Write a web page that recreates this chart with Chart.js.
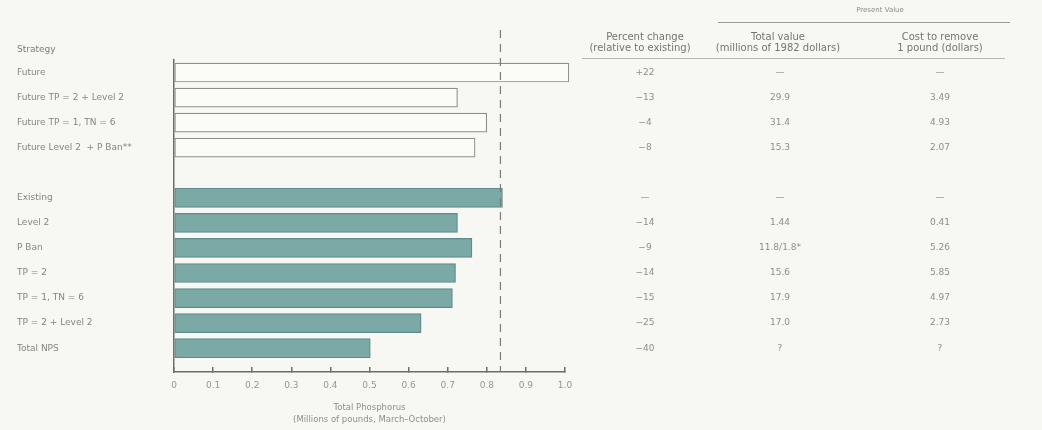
<!DOCTYPE html>
<html>
<head>
<meta charset="utf-8">
<title>Total Phosphorus by Strategy</title>
<script src="https://cdn.jsdelivr.net/npm/chart.js@4.4.1/dist/chart.umd.min.js"></script>
<style>
  html, body { margin: 0; padding: 0; background: #f7f7f3; }
  #wrap { width: 1042px; height: 430px; position: relative; }
  canvas { display: block; }
</style>
</head>
<body>
<div id="wrap"><canvas id="chart" width="1042" height="430"></canvas></div>
<script>
// Strategy names, top to bottom; slot 4 is the gap between the two groups
const strategies = [
  'Future',
  'Future TP = 2 + Level 2',
  'Future TP = 1, TN = 6',
  'Future Level 2  + P Ban**',
  'Existing',
  'Level 2',
  'P Ban',
  'TP = 2',
  'TP = 1, TN = 6',
  'TP = 2 + Level 2',
  'Total NPS'
];
const rowSlots = [0, 1, 2, 3, 5, 6, 7, 8, 9, 10, 11];

// Total phosphorus load, millions of pounds (March–October)
const futureValues = [1.01, 0.725, 0.80, 0.77];
const currentValues = [0.84, 0.725, 0.762, 0.72, 0.712, 0.632, 0.502];

// Table columns
const percentChange = ['+22', '−13', '−4', '−8', '—', '−14', '−9', '−14', '−15', '−25', '−40'];
const totalValue = ['—', '29.9', '31.4', '15.3', '—', '1.44', '11.8/1.8*', '15.6', '17.9', '17.0', '?'];
const costPerPound = ['—', '3.49', '4.93', '2.07', '—', '0.41', '5.26', '5.85', '4.97', '2.73', '?'];

const xTickValues = [0, 0.1, 0.2, 0.3, 0.4, 0.5, 0.6, 0.7, 0.8, 0.9, 1.0];

const FONT = '"DejaVu Sans", Lato, sans-serif';
const TEXT = '#858585';
const AXIS = '#6d6d6d';

const backdrop = {
  id: 'backdrop',
  beforeDraw(chart) {
    const c = chart.ctx;
    c.save();
    c.fillStyle = '#f7f7f3';
    c.fillRect(0, 0, chart.width, chart.height);
    c.restore();
  }
};

// Dashed reference line at the existing load
const existingLine = {
  id: 'existingLine',
  afterDatasetsDraw(chart) {
    const c = chart.ctx;
    const x = chart.scales.x.getPixelForValue(currentValues[0]);
    c.save();
    c.strokeStyle = '#7a7a7a';
    c.lineWidth = 1.2;
    c.setLineDash([8, 6]);
    c.beginPath();
    c.moveTo(x - 2, 30);
    c.lineTo(x - 2, chart.chartArea.bottom);
    c.stroke();
    c.restore();
  }
};

// Header and value table to the right of the bars
const sideTable = {
  id: 'sideTable',
  afterDraw(chart) {
    const c = chart.ctx;
    const y = chart.scales.y;
    c.save();
    c.textBaseline = 'middle';

    c.fillStyle = '#7c7c7c';
    c.font = '9px ' + FONT;
    c.textAlign = 'left';
    c.fillText('Strategy', 17, 50);

    c.textAlign = 'center';
    c.fillStyle = '#8e8e8e';
    c.font = '7px ' + FONT;
    c.fillText('Present Value', 880, 10);

    c.strokeStyle = '#9a9a9a';
    c.lineWidth = 1;
    c.beginPath();
    c.moveTo(718, 22.5); c.lineTo(1010, 22.5);
    c.stroke();
    c.strokeStyle = '#b8b8b8';
    c.beginPath();
    c.moveTo(582, 58.5); c.lineTo(1005, 58.5);
    c.stroke();

    c.fillStyle = '#747474';
    c.font = '10px ' + FONT;
    c.fillText('Percent change', 645, 37);
    c.fillText('(relative to existing)', 640, 48);
    c.fillText('Total value', 778, 37);
    c.fillText('(millions of 1982 dollars)', 778, 48);
    c.fillText('Cost to remove', 940, 37);
    c.fillText('1 pound (dollars)', 940, 48);

    c.fillStyle = '#8e8e8e';
    c.font = '9px ' + FONT;
    rowSlots.forEach((slot, i) => {
      const py = y.getPixelForValue(slot);
      c.fillText(percentChange[i], 645, py);
      c.fillText(totalValue[i], 780, py);
      c.fillText(costPerPound[i], 940, py);
    });
    c.restore();
  }
};

new Chart(document.getElementById('chart'), {
  type: 'bar',
  data: {
    datasets: [
      {
        label: 'Future',
        data: futureValues.map((v, i) => ({ x: v, y: rowSlots[i] })),
        backgroundColor: '#fbfbf8',
        borderColor: '#8e8e8e',
        borderWidth: 1.2,
        borderSkipped: false,
        barThickness: 19,
        grouped: false,
        clip: false
      },
      {
        label: 'Existing',
        data: currentValues.map((v, i) => ({ x: v, y: rowSlots[i + 4] })),
        backgroundColor: '#7ba9a5',
        borderColor: '#5f8c89',
        borderWidth: 1.2,
        borderSkipped: false,
        barThickness: 19,
        grouped: false,
        clip: false
      }
    ]
  },
  options: {
    indexAxis: 'y',
    responsive: false,
    animation: false,
    layout: { padding: { left: 17, top: 60, right: 477, bottom: 0 } },
    plugins: { legend: { display: false }, tooltip: { enabled: false } },
    scales: {
      x: {
        type: 'linear',
        min: 0,
        max: 1,
        afterBuildTicks: s => { s.ticks = xTickValues.map(v => ({ value: v })); },
        afterFit: s => { s.height = 58; },
        ticks: {
          callback: v => (v === 0 ? '0' : v.toFixed(1)),
          color: '#959595',
          font: { family: FONT, size: 9 },
          padding: 13,
          maxRotation: 0,
          autoSkip: false
        },
        grid: { drawOnChartArea: false, tickLength: -5, color: AXIS, lineWidth: 1.5 },
        border: { color: AXIS, width: 1.5 },
        title: {
          display: true,
          text: ['Total Phosphorus', '(Millions of pounds, March–October)'],
          color: '#8e8e8e',
          font: { family: FONT, size: 8.5, lineHeight: 1.45 },
          padding: { top: 0, bottom: 4 }
        }
      },
      y: {
        type: 'linear',
        reverse: true,
        offset: false,
        min: -0.5,
        max: 11.95,
        afterBuildTicks: s => { s.ticks = rowSlots.map(v => ({ value: v })); },
        afterFit: s => { s.width = 157; },
        ticks: {
          callback: (v, i) => strategies[i],
          crossAlign: 'far',
          color: TEXT,
          font: { family: FONT, size: 9 },
          autoSkip: false,
          padding: 0
        },
        grid: { drawOnChartArea: false, drawTicks: false, color: AXIS },
        border: { color: AXIS, width: 1.5 }
      }
    }
  },
  plugins: [backdrop, existingLine, sideTable]
});
</script>
</body>
</html>
